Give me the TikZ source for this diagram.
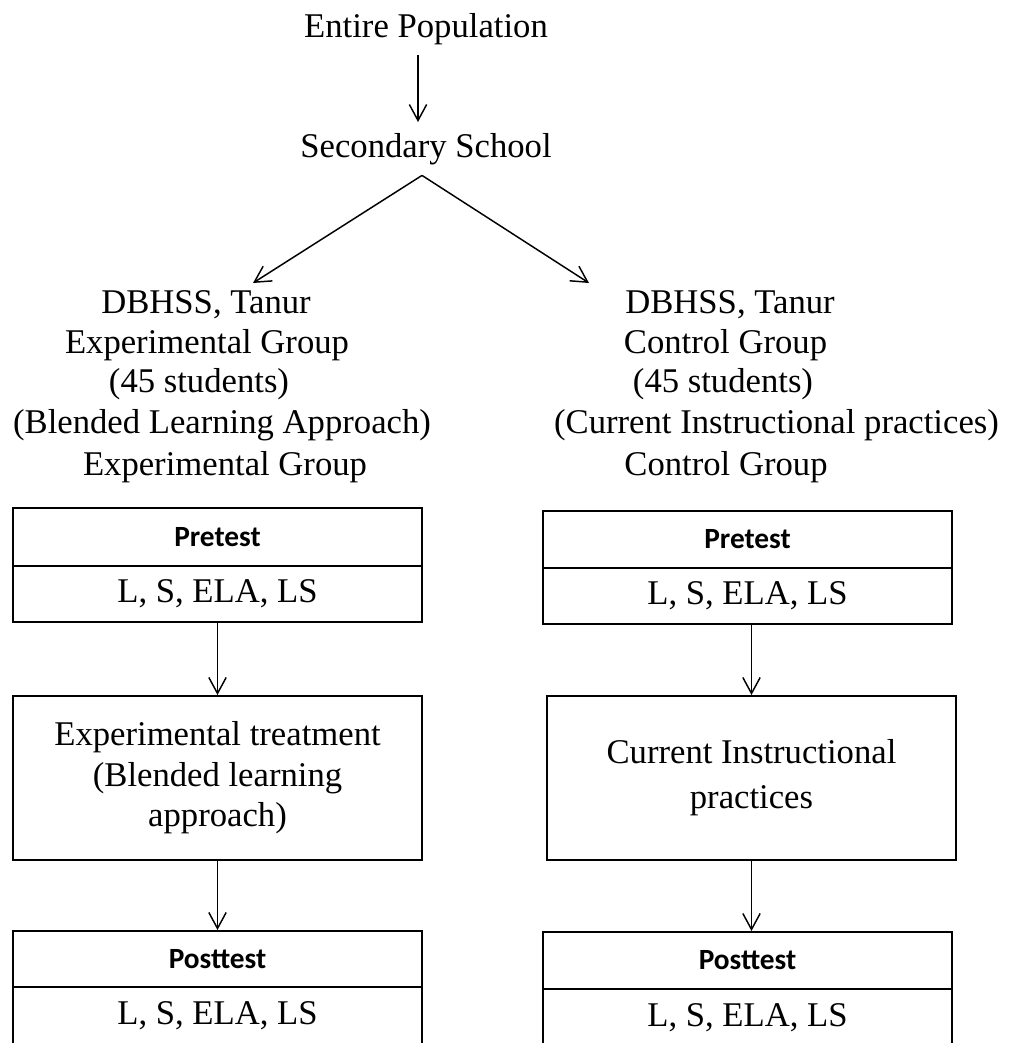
\documentclass[tikz,border=0pt]{standalone}
\usepackage{fontspec}
\setmainfont{Liberation Serif}
\newfontfamily\headfont{Carlito}
\usetikzlibrary{arrows.meta}

\begin{document}
\begin{tikzpicture}[x=0.75pt, y=-0.75pt,
    lbl/.style={font=\fontsize{26}{30}\selectfont, anchor=base, inner sep=8pt},
    box/.style={draw, line width=1.5pt, minimum width=306.75pt, inner sep=0pt,
      align=center, font=\fontsize{26}{30}\selectfont},
    head/.style={box, font=\fontsize{22}{26}\headfont\bfseries},
    arr/.style={-{Straight Barb[length=12pt,width=13pt]}, line width=1.1pt}]

  \clip (0,0) rectangle (1008,1043);

  % Top of the tree
  \node[lbl] (pop)    at (426,37)  {Entire Population};
  \node[lbl] (school) at (426,157) {Secondary School};
  \draw[arr] ([xshift=-6pt]pop.south) -- ([xshift=-6pt]school.north);

  % Split into the two groups
  \coordinate (split) at ([xshift=-3pt]school.south);
  \coordinate (toexp) at (253,283);
  \coordinate (toctl) at (589,283);
  \draw[arr] (split) -- (toexp);
  \draw[arr] (split) -- (toctl);

  % Experimental group
  \node[lbl] (e1) at (206,313) {DBHSS, Tanur};
  \node[lbl] (e2) at (207,353) {Experimental Group};
  \node[lbl] (e3) at (199,392) {(45 students)};
  \node[lbl] (e4) at (222,433) {(Blended Learning Approach)};
  \node[lbl] (e5) at (225,475) {Experimental Group};

  % Control group
  \node[lbl] (c1) at (730,313)   {DBHSS, Tanur};
  \node[lbl] (c2) at (725.5,353) {Control Group};
  \node[lbl] (c3) at (723,392)   {(45 students)};
  \node[lbl] (c4) at (776.5,433) {(Current Instructional practices)};
  \node[lbl] (c5) at (726,475)   {Control Group};

  % Pretest boxes
  \node[head, minimum height=43.5pt] (prexp) at (217.5,537) {Pretest};
  \node[box, minimum height=42pt]    (prexpv) at (217.5,594) {L, S, ELA, LS};
  \node[head, minimum height=42.75pt] (prctl) at (747.5,539.5) {Pretest};
  \node[box, minimum height=42pt]     (prctlv) at (747.5,596) {L, S, ELA, LS};

  % Treatment boxes
  \node[box, minimum height=123pt, font=\fontsize{26}{30.4}\selectfont]
    (trexp) at (217.5,778) {Experimental treatment\\(Blended learning\\approach)};
  \node[box, minimum height=123pt, font=\fontsize{26}{33.75}\selectfont]
    (trctl) at (751.5,778) {Current Instructional\\practices};

  % Posttest boxes
  \node[head, minimum height=42pt]    (poexp) at (217.5,959) {Posttest};
  \node[box, minimum height=43.5pt]   (poexpv) at (217.5,1016) {L, S, ELA, LS};
  \node[head, minimum height=42.75pt] (poctl) at (747.5,960.5) {Posttest};
  \node[box, minimum height=43.5pt]   (poctlv) at (747.5,1018) {L, S, ELA, LS};

  % Arrows between boxes
  \draw[arr] (prexpv.south) -- (trexp.north);
  \draw[arr] (trctl.north |- prctlv.south) -- (trctl.north);
  \draw[arr] (trexp.south) -- (poexp.north);
  \draw[arr] (trctl.south) -- (trctl.south |- poctl.north);

\end{tikzpicture}
\end{document}
